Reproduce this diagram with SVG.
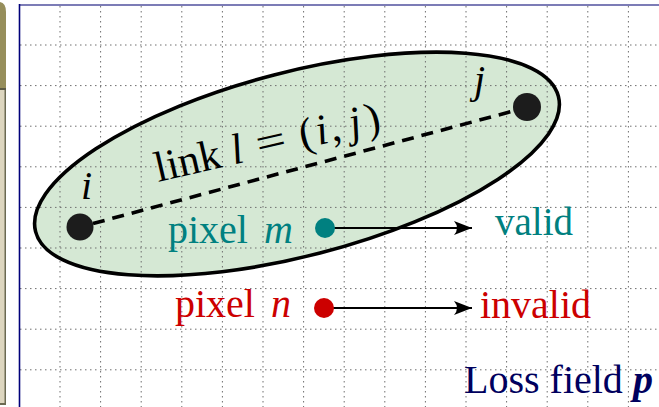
<svg xmlns="http://www.w3.org/2000/svg" width="659" height="407" viewBox="0 0 659 407">
  <style>
    .serif { font-family: "Liberation Serif", "Times New Roman", serif; }
    .it { font-style: italic; }
    .grid line { stroke: #6e6e6e; stroke-width: 1; stroke-dasharray: 1.5 3.5; }
    .arrow { stroke: #000; stroke-width: 2; fill: none; marker-end: url(#stealth); }
  </style>
  <defs>
    <marker id="stealth" markerUnits="userSpaceOnUse" markerWidth="20" markerHeight="18" viewBox="-18 -9 20 18" refX="0" refY="0" orient="auto">
      <path d="M0,0 L-18,-7 Q-12,0 -18,7 Z" fill="#000"/>
    </marker>
  </defs>
  <rect x="0" y="0" width="659" height="407" fill="#fff"/>

  <!-- left sidebar -->
  <g id="sidebar">
    <path d="M0,0 L0,89 L6,89 L6,12 Q6,3 0,2 Z" fill="#968e5b"/>
    <rect x="0" y="88" width="6" height="2" fill="#5c5a45"/>
    <rect x="0" y="90" width="6" height="315" fill="#6b6a52"/>
    <rect x="0" y="90" width="4.5" height="313" fill="#ddd6bf"/>
  </g>

  <!-- ellipse fill -->
  <g id="link-region-fill">
    <ellipse cx="297" cy="164" rx="270" ry="92" transform="rotate(-14.5 297 164)" fill="#d5e8d4"/>
  </g>

  <!-- grid -->
  <g class="grid">
    <line x1="20" y1="45" x2="659" y2="45"/>
    <line x1="20" y1="85.6" x2="659" y2="85.6"/>
    <line x1="20" y1="126.2" x2="659" y2="126.2"/>
    <line x1="20" y1="166.8" x2="659" y2="166.8"/>
    <line x1="20" y1="207.4" x2="659" y2="207.4"/>
    <line x1="20" y1="248" x2="659" y2="248"/>
    <line x1="20" y1="288.6" x2="659" y2="288.6"/>
    <line x1="20" y1="329.2" x2="659" y2="329.2"/>
    <line x1="20" y1="369.8" x2="659" y2="369.8"/>
    <line x1="60" y1="6" x2="60" y2="407"/>
    <line x1="100.6" y1="6" x2="100.6" y2="407"/>
    <line x1="141.2" y1="6" x2="141.2" y2="407"/>
    <line x1="181.8" y1="6" x2="181.8" y2="407"/>
    <line x1="222.4" y1="6" x2="222.4" y2="407"/>
    <line x1="263" y1="6" x2="263" y2="407"/>
    <line x1="303.6" y1="6" x2="303.6" y2="407"/>
    <line x1="344.2" y1="6" x2="344.2" y2="407"/>
    <line x1="384.8" y1="6" x2="384.8" y2="407"/>
    <line x1="425.4" y1="6" x2="425.4" y2="407"/>
    <line x1="466" y1="6" x2="466" y2="407"/>
    <line x1="506.6" y1="6" x2="506.6" y2="407"/>
    <line x1="547.2" y1="6" x2="547.2" y2="407"/>
    <line x1="587.8" y1="6" x2="587.8" y2="407"/>
    <line x1="628.4" y1="6" x2="628.4" y2="407"/>
  </g>

  <!-- frame -->
  <g id="frame">
    <line x1="19" y1="5" x2="659" y2="5" stroke="#7c7cb6" stroke-width="2"/>
    <line x1="19.5" y1="4" x2="19.5" y2="407" stroke="#00007a" stroke-width="1.6"/>
  </g>

  <!-- ellipse outline -->
  <g id="link-region">
    <ellipse cx="297" cy="164" rx="270" ry="92" transform="rotate(-14.5 297 164)" fill="none" stroke="#000" stroke-width="3.6"/>
  </g>

  <!-- connectors -->
  <g id="connectors">
    <line x1="93" y1="223.5" x2="514" y2="110.8" stroke="#000" stroke-width="3.6" stroke-dasharray="12 8"/>
    <line class="arrow" x1="334" y1="228" x2="472" y2="228"/>
    <line class="arrow" x1="333" y1="308" x2="472" y2="308"/>
  </g>

  <!-- nodes -->
  <g id="node-i">
    <circle cx="80" cy="227" r="13.5" fill="#1c1c1c"/>
    <text class="serif it" x="81" y="199" font-size="40">i</text>
  </g>
  <g id="node-j">
    <circle cx="527" cy="107" r="14" fill="#1c1c1c"/>
    <text class="serif it" x="474" y="93" font-size="40">j</text>
  </g>
  <g id="link-label">
    <text class="serif" transform="translate(158,182) rotate(-13)" font-size="43"><tspan x="0">link</tspan><tspan class="it" x="78">l</tspan><tspan x="104" textLength="30" lengthAdjust="spacingAndGlyphs">=</tspan><tspan x="148">(</tspan><tspan class="it" x="165">i</tspan><tspan x="179">,</tspan><tspan class="it" x="199">j</tspan><tspan x="216">)</tspan></text>
  </g>
  <g id="pixel-m">
    <circle cx="325" cy="228" r="10" fill="#008080"/>
    <text class="serif" x="168" y="243" font-size="40" fill="#008080">pixel<tspan class="it" x="264">m</tspan></text>
  </g>
  <g id="valid">
    <text class="serif" x="495" y="235" font-size="39" fill="#008080">valid</text>
  </g>
  <g id="pixel-n">
    <circle cx="324" cy="308" r="10" fill="#cc0000"/>
    <text class="serif" x="175" y="317" font-size="40" fill="#cc0000">pixel<tspan class="it" x="271">n</tspan></text>
  </g>
  <g id="invalid">
    <text class="serif" x="480" y="318" font-size="40" fill="#cc0000">invalid</text>
  </g>
  <g id="loss-field">
    <text class="serif" x="464" y="393" font-size="40" fill="#00005e">Loss field <tspan font-style="italic" font-weight="bold">p</tspan></text>
  </g>
</svg>
